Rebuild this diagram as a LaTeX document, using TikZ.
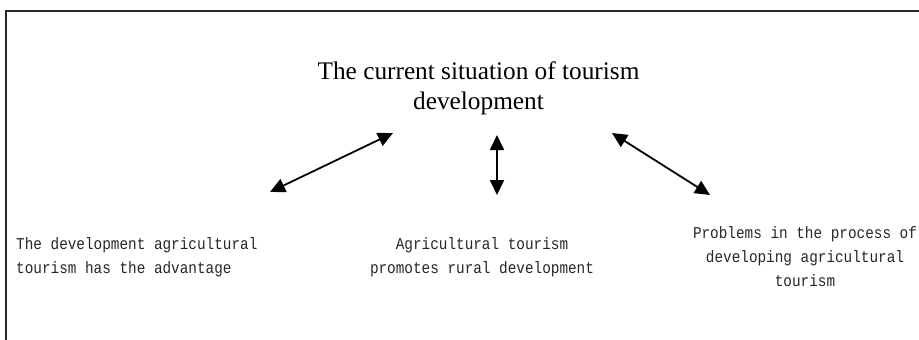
\documentclass[tikz,border=0pt]{standalone}
\usepackage{fontspec}
\setmainfont{Liberation Serif}
\newfontfamily\narrowmono[FakeStretch=0.87]{Liberation Mono}
\usetikzlibrary{arrows.meta}

\begin{document}
\begin{tikzpicture}[x=1pt,y=-1pt,
  headtext/.style={font=\fontsize{25.3}{30}\selectfont, align=center, inner sep=0pt},
  monotext/.style={font=\narrowmono\fontsize{16.5}{24}\selectfont, inner sep=0pt, text=black!85},
  frameline/.style={line width=2pt, draw=black!85},
  link/.style={line width=1.8pt,
    {Triangle[length=15pt,width=14pt]}-{Triangle[length=15pt,width=14pt]}}]

  % page area and open frame (top and left edges)
  \useasboundingbox (0,0) rectangle (919,340);
  \draw[frameline] (919,11) -- (6,11) -- (6,340);

  % heading
  \node[headtext] (head) at (478.5,88)
    {The current situation of tourism\\development};

  % three topics
  \node[monotext, align=left, anchor=west] (adv) at (16,257)
    {The development agricultural\\tourism has the advantage};
  \node[monotext, align=center] (rural) at (482,257)
    {Agricultural tourism\\promotes rural development};
  \node[monotext, align=center] (prob) at (805,257)
    {Problems in the process of\\developing agricultural\\tourism};

  % arrow end points
  \coordinate (a1) at (270,192);
  \coordinate (a2) at (393,133);
  \coordinate (b1) at (497,135);
  \coordinate (b2) at (497,195);
  \coordinate (c1) at (612,133);
  \coordinate (c2) at (710,195);

  \draw[link] (a1) -- (a2);
  \draw[link] (b1) -- (b2);
  \draw[link] (c1) -- (c2);
\end{tikzpicture}
\end{document}
